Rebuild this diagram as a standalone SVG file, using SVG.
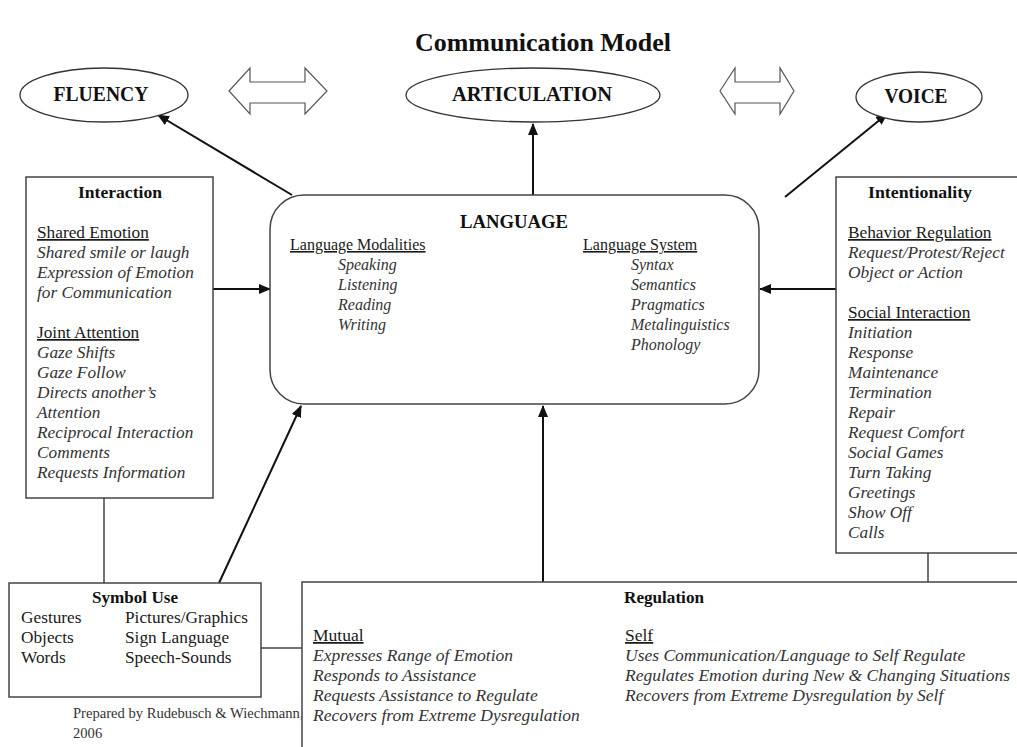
<svg xmlns="http://www.w3.org/2000/svg" width="1017" height="747" viewBox="0 0 1017 747">
<style>
text{font-family:"Liberation Serif","Times New Roman",serif;fill:#1a1a1a}
.b{text-anchor:middle;font-weight:bold;fill:#111}
.t{font-size:26px}
.big{font-size:20px}
.h{font-size:17.5px}
.u{font-size:17.3px;text-decoration:underline}
.i{font-size:17.3px;font-style:italic;fill:#333}
.n{font-size:17.3px}
.lb .u{font-size:16px}
.lb .i{font-size:16px}
.rg .i,.rg .u{font-size:17.5px}
.box{fill:#fff;stroke:#444;stroke-width:1.5}
.el{fill:#fff;stroke:#333;stroke-width:1.3}
.dbl{fill:#fff;stroke:#555;stroke-width:1.2}
.ln{fill:none;stroke:#444;stroke-width:1.5}
.ar{fill:none;stroke:#111;stroke-width:2}
</style>
<defs>
<marker id="ah" markerUnits="userSpaceOnUse" markerWidth="12" markerHeight="10" refX="11" refY="5" orient="auto">
<path d="M0,0 L12,5 L0,10 z" fill="#111"/>
</marker>
</defs>
<rect width="1017" height="747" fill="#fff"/>
<text class="b t" x="543" y="51" textLength="256" lengthAdjust="spacingAndGlyphs">Communication Model</text>

<g id="connectors">
<line class="ar" x1="292" y1="195" x2="158" y2="115" marker-end="url(#ah)"/>
<line class="ar" x1="533" y1="195" x2="533" y2="124" marker-end="url(#ah)"/>
<line class="ar" x1="785" y1="197" x2="887" y2="114" marker-end="url(#ah)"/>
<line class="ar" x1="213" y1="289" x2="270" y2="289" marker-end="url(#ah)"/>
<line class="ar" x1="836" y1="289" x2="760" y2="289" marker-end="url(#ah)"/>
<line class="ar" x1="219" y1="583" x2="301" y2="406" marker-end="url(#ah)"/>
<line class="ar" x1="543" y1="582" x2="543" y2="406" marker-end="url(#ah)"/>
<line class="ln" x1="104" y1="498" x2="104" y2="583"/>
<line class="ln" x1="928" y1="553" x2="928" y2="582"/>
<line class="ln" x1="261" y1="648" x2="302" y2="648"/>
</g>

<g id="fluency">
<ellipse class="el" cx="104" cy="95" rx="84" ry="27"/>
<text class="b big" x="101" y="101" textLength="95" lengthAdjust="spacingAndGlyphs">FLUENCY</text>
</g>
<g id="arrow-left">
<polygon class="dbl" points="229,91 250,68 250,82 305,82 305,68 327,91 305,114 305,103 250,103 250,114"/>
</g>
<g id="articulation">
<ellipse class="el" cx="533" cy="95" rx="127" ry="27"/>
<text class="b big" x="532" y="101" textLength="160" lengthAdjust="spacingAndGlyphs">ARTICULATION</text>
</g>
<g id="arrow-right">
<polygon class="dbl" points="720,91 735,68 735,82 780,82 780,68 794,91 780,114 780,103 735,103 735,114"/>
</g>
<g id="voice">
<ellipse class="el" cx="919" cy="97" rx="63" ry="25"/>
<text class="b big" x="916" y="103" textLength="63" lengthAdjust="spacingAndGlyphs">VOICE</text>
</g>

<g id="interaction">
<rect class="box" x="26" y="177" width="187" height="321"/>
<text class="b h" x="120" y="198" textLength="84" lengthAdjust="spacingAndGlyphs">Interaction</text>
<text class="u" x="37" y="238">Shared Emotion</text>
<text class="i" x="37" y="258">Shared smile or laugh</text>
<text class="i" x="37" y="278">Expression of Emotion</text>
<text class="i" x="37" y="298">for Communication</text>
<text class="u" x="37" y="338">Joint Attention</text>
<text class="i" x="37" y="358">Gaze Shifts</text>
<text class="i" x="37" y="378">Gaze Follow</text>
<text class="i" x="37" y="398">Directs another’s</text>
<text class="i" x="37" y="418">Attention</text>
<text class="i" x="37" y="438">Reciprocal Interaction</text>
<text class="i" x="37" y="458">Comments</text>
<text class="i" x="37" y="478">Requests Information</text>
</g>

<g id="language" class="lb">
<rect class="box" x="270" y="195" width="489" height="209" rx="34" ry="34"/>
<text class="b big" x="514" y="228" style="font-size:19px" textLength="108" lengthAdjust="spacingAndGlyphs">LANGUAGE</text>
<text class="u" x="290" y="250">Language Modalities</text>
<text class="i" x="338" y="270">Speaking</text>
<text class="i" x="338" y="290">Listening</text>
<text class="i" x="338" y="310">Reading</text>
<text class="i" x="338" y="330">Writing</text>
<text class="u" x="583" y="250">Language System</text>
<text class="i" x="631" y="270">Syntax</text>
<text class="i" x="631" y="290">Semantics</text>
<text class="i" x="631" y="310">Pragmatics</text>
<text class="i" x="631" y="330">Metalinguistics</text>
<text class="i" x="631" y="350">Phonology</text>
</g>

<g id="intentionality">
<rect class="box" x="836" y="177" width="200" height="376"/>
<text class="b h" x="920" y="198" textLength="104" lengthAdjust="spacingAndGlyphs">Intentionality</text>
<text class="u" x="848" y="238">Behavior Regulation</text>
<text class="i" x="848" y="258">Request/Protest/Reject</text>
<text class="i" x="848" y="278">Object or Action</text>
<text class="u" x="848" y="318">Social Interaction</text>
<text class="i" x="848" y="338">Initiation</text>
<text class="i" x="848" y="358">Response</text>
<text class="i" x="848" y="378">Maintenance</text>
<text class="i" x="848" y="398">Termination</text>
<text class="i" x="848" y="418">Repair</text>
<text class="i" x="848" y="438">Request Comfort</text>
<text class="i" x="848" y="458">Social Games</text>
<text class="i" x="848" y="478">Turn Taking</text>
<text class="i" x="848" y="498">Greetings</text>
<text class="i" x="848" y="518">Show Off</text>
<text class="i" x="848" y="538">Calls</text>
</g>

<g id="symbol-use">
<rect class="box" x="9" y="583" width="252" height="114"/>
<text class="b h" x="135" y="603" textLength="86" lengthAdjust="spacingAndGlyphs">Symbol Use</text>
<text class="n" x="21" y="623">Gestures</text>
<text class="n" x="21" y="643">Objects</text>
<text class="n" x="21" y="663">Words</text>
<text class="n" x="125" y="623">Pictures/Graphics</text>
<text class="n" x="125" y="643">Sign Language</text>
<text class="n" x="125" y="663">Speech-Sounds</text>
</g>

<g id="credit">
<text x="73" y="718" style="font-size:14.6px;fill:#333">Prepared by Rudebusch &amp; Wiechmann,</text>
<text x="73" y="738" style="font-size:14.6px;fill:#333">2006</text>
</g>

<g id="regulation" class="rg">
<rect class="box" x="302" y="582" width="740" height="180"/>
<text class="b h" x="664" y="603" textLength="80" lengthAdjust="spacingAndGlyphs">Regulation</text>
<text class="u" x="313" y="641">Mutual</text>
<text class="i" x="313" y="661">Expresses Range of Emotion</text>
<text class="i" x="313" y="681">Responds to Assistance</text>
<text class="i" x="313" y="701">Requests Assistance to Regulate</text>
<text class="i" x="313" y="721">Recovers from Extreme Dysregulation</text>
<text class="u" x="625" y="641">Self</text>
<text class="i" x="625" y="661">Uses Communication/Language to Self Regulate</text>
<text class="i" x="625" y="681">Regulates Emotion during New &amp; Changing Situations</text>
<text class="i" x="625" y="701">Recovers from Extreme Dysregulation by Self</text>
</g>
</svg>
